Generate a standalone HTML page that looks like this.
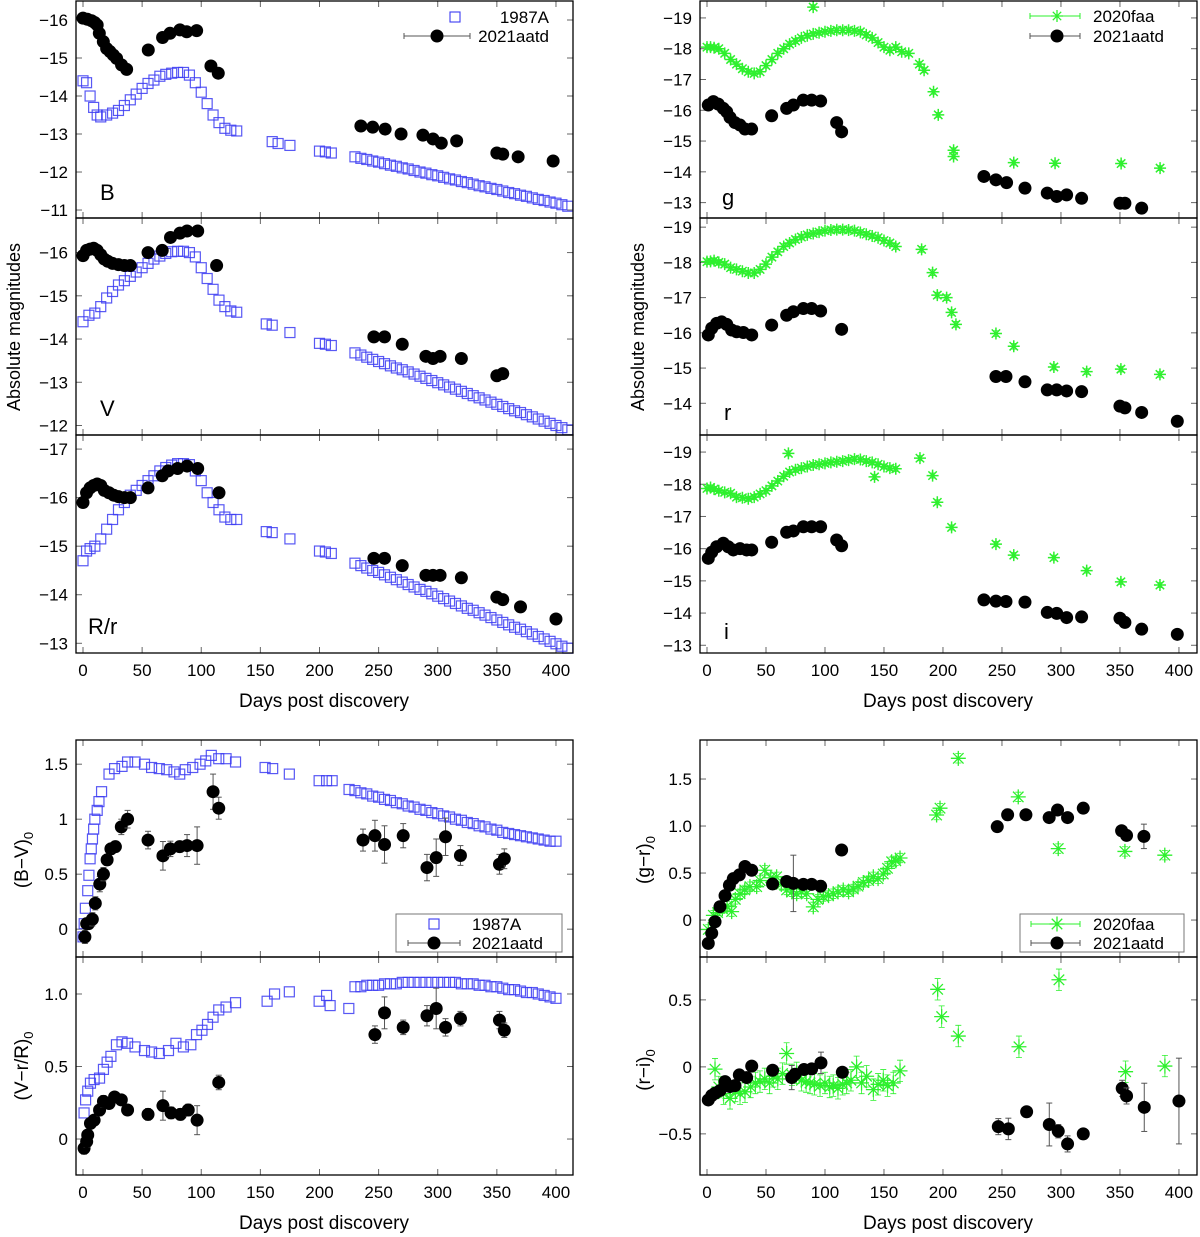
<!DOCTYPE html>
<html><head><meta charset="utf-8">
<style>
html,body{margin:0;padding:0;background:#fff;}
svg{display:block;font-family:"Liberation Sans",Arial,sans-serif;}
</style></head>
<body>
<svg id="chart" width="1200" height="1237" viewBox="0 0 1200 1237" xmlns="http://www.w3.org/2000/svg">
  <rect x="0" y="0" width="1200" height="1237" fill="#fff"/>
  <g id="layer"></g>
  <g font-size="19" fill="#000">
    <text x="324" y="707" text-anchor="middle">Days post discovery</text>
    <text x="948" y="707" text-anchor="middle">Days post discovery</text>
    <text x="324" y="1229" text-anchor="middle">Days post discovery</text>
    <text x="948" y="1229" text-anchor="middle">Days post discovery</text>
    <text transform="translate(20,327) rotate(-90)" text-anchor="middle" font-size="18">Absolute magnitudes</text>
    <text transform="translate(644,327) rotate(-90)" text-anchor="middle" font-size="18">Absolute magnitudes</text>
    <text transform="translate(28,860) rotate(-90)" text-anchor="middle">(B−V)<tspan font-size="13" dy="5">0</tspan></text>
    <text transform="translate(28,1066) rotate(-90)" text-anchor="middle">(V−r/R)<tspan font-size="13" dy="5">0</tspan></text>
    <text transform="translate(650,860) rotate(-90)" text-anchor="middle">(g−r)<tspan font-size="13" dy="5">0</tspan></text>
    <text transform="translate(650,1070) rotate(-90)" text-anchor="middle">(r−i)<tspan font-size="13" dy="5">0</tspan></text>
  </g>
  <g font-size="22" fill="#000">
    <text x="100" y="200">B</text>
    <text x="100" y="416">V</text>
    <text x="88" y="634">R/r</text>
    <text x="722" y="205">g</text>
    <text x="724" y="420">r</text>
    <text x="724" y="639">i</text>
  </g>
</svg>
<script>
// ---------- DATA ----------
const b87Days=[0,3,6,9,12,15,20,25,30,35,40,45,50,55,60,65,70,75,80,85,90,95,100,105,110,115,120,125,130,160,165,175,200,205,210,230,235,240,245,250,255,260,265,270,275,280,285,290,295,300,305,310,315,320,325,330,335,340,345,350,355,360,365,370,375,380,385,390,395,400,405,410];
const b87Mag=[-14.4,-14.35,-14.0,-13.7,-13.5,-13.45,-13.5,-13.55,-13.62,-13.75,-13.9,-14.05,-14.2,-14.33,-14.42,-14.52,-14.57,-14.6,-14.62,-14.62,-14.55,-14.35,-14.1,-13.8,-13.5,-13.3,-13.15,-13.1,-13.08,-12.8,-12.75,-12.7,-12.55,-12.53,-12.5,-12.40,-12.36,-12.33,-12.29,-12.26,-12.22,-12.18,-12.15,-12.11,-12.08,-12.04,-12.00,-11.97,-11.93,-11.90,-11.86,-11.82,-11.79,-11.75,-11.72,-11.68,-11.64,-11.61,-11.57,-11.54,-11.50,-11.46,-11.43,-11.39,-11.36,-11.32,-11.28,-11.25,-11.21,-11.18,-11.14,-11.10];
const bAaDays=[0,3.7,7.3,10,12,13.8,17.2,20,22.8,25.6,28.4,32.6,36.9,55.2,67.3,73.6,82,87.7,96.1,108.2,114.4,235,245,255.5,269,287.5,296,303,316,350,355,368,397.6];
const bAaMag=[-16.05,-16.02,-15.98,-15.93,-15.87,-15.65,-15.43,-15.25,-15.17,-15.08,-14.99,-14.82,-14.7,-15.21,-15.54,-15.65,-15.74,-15.69,-15.72,-14.79,-14.6,-13.21,-13.18,-13.13,-13.0,-12.97,-12.87,-12.76,-12.82,-12.5,-12.47,-12.4,-12.29];
const v87Days=[0,5,10,15,20,25,30,35,40,45,50,55,60,65,70,75,80,85,90,95,100,105,110,115,120,125,130,155,160,175,200,205,210,230,235,240,245,250,255,260,265,270,275,280,285,290,295,300,305,310,315,320,325,330,335,340,345,350,355,360,365,370,375,380,385,390,395,400,405,410];
const v87Mag=[-14.4,-14.55,-14.6,-14.75,-14.95,-15.1,-15.25,-15.35,-15.45,-15.55,-15.65,-15.75,-15.85,-15.92,-15.98,-16.02,-16.03,-16.03,-16.0,-15.9,-15.65,-15.4,-15.15,-14.9,-14.75,-14.65,-14.62,-14.35,-14.32,-14.15,-13.9,-13.88,-13.85,-13.68,-13.63,-13.58,-13.53,-13.48,-13.43,-13.38,-13.33,-13.29,-13.24,-13.19,-13.14,-13.09,-13.04,-12.99,-12.94,-12.89,-12.84,-12.79,-12.74,-12.69,-12.64,-12.59,-12.54,-12.49,-12.44,-12.39,-12.34,-12.30,-12.25,-12.20,-12.15,-12.10,-12.05,-12.00,-11.95,-11.90];
const vAaDays=[0,3,6,9,12,15,18,21,25,30,35,40,55,67,74,82,88,97,113,246,255,270,290,296,302,320,350,355];
const vAaMag=[-15.93,-16.05,-16.08,-16.1,-16.05,-15.95,-15.85,-15.8,-15.75,-15.72,-15.7,-15.7,-16.0,-16.05,-16.35,-16.45,-16.5,-16.5,-15.7,-14.05,-14.05,-13.88,-13.6,-13.55,-13.6,-13.55,-13.15,-13.2];
const r87Days=[0,3,6,10,15,20,25,30,35,40,45,50,55,60,65,70,75,80,85,90,95,100,105,110,115,120,125,130,155,160,175,200,205,210,230,235,240,245,250,255,260,265,270,275,280,285,290,295,300,305,310,315,320,325,330,335,340,345,350,355,360,365,370,375,380,385,390,395,400,405,410];
const r87Mag=[-14.7,-14.9,-14.95,-15.0,-15.15,-15.35,-15.55,-15.75,-15.9,-16.05,-16.15,-16.25,-16.35,-16.45,-16.55,-16.62,-16.67,-16.7,-16.7,-16.68,-16.55,-16.35,-16.1,-15.9,-15.75,-15.6,-15.55,-15.55,-15.3,-15.28,-15.15,-14.9,-14.88,-14.85,-14.65,-14.60,-14.55,-14.50,-14.46,-14.41,-14.36,-14.31,-14.26,-14.21,-14.16,-14.11,-14.07,-14.02,-13.97,-13.92,-13.87,-13.82,-13.77,-13.72,-13.68,-13.63,-13.58,-13.53,-13.48,-13.43,-13.38,-13.33,-13.29,-13.24,-13.19,-13.14,-13.09,-13.04,-12.99,-12.94,-12.90];
const rAaDays=[0,3,6,9,12,15,18,22,26,30,35,40,55,67,72,80,88,97,115,246,255,270,290,296,302,320,350,355,370,400];
const rAaMag=[-15.9,-16.1,-16.2,-16.25,-16.28,-16.25,-16.15,-16.1,-16.05,-16.02,-16.0,-16.0,-16.2,-16.45,-16.55,-16.6,-16.65,-16.6,-16.1,-14.75,-14.75,-14.6,-14.4,-14.4,-14.4,-14.35,-13.95,-13.9,-13.75,-13.5];
const gFaDays=[0,3,6,10,15,20,25,30,35,40,45,50,55,60,65,70,75,80,85,90,95,100,105,110,115,120,125,130,135,140,145,150,155,160,165,90,171,180,184,192,196,209,209,260,295,351,384];
const gFaMag=[-18.05,-18.05,-18.03,-18.0,-17.85,-17.65,-17.5,-17.35,-17.25,-17.2,-17.25,-17.45,-17.65,-17.85,-18.0,-18.15,-18.25,-18.35,-18.42,-18.48,-18.52,-18.55,-18.58,-18.6,-18.6,-18.6,-18.58,-18.55,-18.45,-18.35,-18.2,-18.05,-17.95,-18.05,-17.9,-19.35,-17.85,-17.5,-17.3,-16.6,-15.85,-14.7,-14.5,-14.3,-14.28,-14.27,-14.12];
const gAaDays=[1.1,5.4,9.6,13.8,16.7,19.5,23.7,28,32.2,37.8,54.8,67.5,73.2,81.6,88.7,96.3,109.9,114.1,234.7,244.9,253.9,269.5,288.4,296.4,304.8,317.5,350,354.2,368.4];
const gAaMag=[-16.17,-16.28,-16.2,-16.06,-15.95,-15.77,-15.6,-15.52,-15.39,-15.39,-15.82,-16.06,-16.17,-16.33,-16.33,-16.3,-15.6,-15.3,-13.85,-13.74,-13.65,-13.47,-13.31,-13.2,-13.25,-13.14,-12.98,-12.98,-12.82];
const rFaDays=[0,3,6,10,15,20,25,30,35,40,45,50,55,60,65,70,75,80,85,90,95,100,105,110,115,120,125,130,135,140,145,150,155,160,181.9,191.2,195.2,203.1,207.3,211,244.9,260,294,321.8,350.8,383.9];
const rFaMag=[-18.02,-18.03,-18.05,-18.0,-17.95,-17.85,-17.8,-17.75,-17.7,-17.7,-17.8,-17.95,-18.15,-18.3,-18.45,-18.55,-18.65,-18.72,-18.78,-18.82,-18.86,-18.9,-18.92,-18.93,-18.93,-18.92,-18.9,-18.85,-18.8,-18.75,-18.7,-18.62,-18.55,-18.45,-18.37,-17.71,-17.07,-17.0,-16.58,-16.24,-15.98,-15.62,-15.03,-14.9,-14.97,-14.82];
const rAa2Days=[1.1,4,8.2,12.4,16.7,20.9,25.1,30.8,37.9,54.8,67.5,73.2,81.7,88.7,96.3,114.1,244.9,253.4,269.5,288.4,296.4,304.8,317.5,350,354.2,368.4,398.6];
const rAa2Mag=[-15.94,-16.13,-16.27,-16.31,-16.24,-16.08,-16.03,-16.01,-15.94,-16.22,-16.5,-16.6,-16.69,-16.69,-16.62,-16.1,-14.76,-14.76,-14.61,-14.38,-14.38,-14.35,-14.33,-13.92,-13.87,-13.74,-13.49];
const iFaDays=[0,3,6,10,15,20,25,30,35,40,45,50,55,60,65,70,75,80,85,90,95,100,105,110,115,120,125,130,135,140,145,150,155,160,69,142,180.5,191.2,195.2,207.3,244.9,260,294,321.8,350.8,383.9];
const iFaMag=[-17.87,-17.9,-17.85,-17.8,-17.75,-17.72,-17.6,-17.58,-17.55,-17.6,-17.7,-17.8,-17.95,-18.1,-18.25,-18.38,-18.45,-18.5,-18.55,-18.6,-18.62,-18.65,-18.68,-18.7,-18.72,-18.75,-18.78,-18.77,-18.72,-18.68,-18.62,-18.55,-18.5,-18.48,-18.96,-18.23,-18.81,-18.27,-17.44,-16.66,-16.14,-15.8,-15.72,-15.32,-14.97,-14.87];
const iAaDays=[1.1,4,8.2,13.8,18,22.3,28,33.6,37.9,54.8,67.5,73.2,81.7,88.7,96.3,109.9,114.1,234.7,244.9,253.4,269.5,288.4,296.4,304.8,317.5,350,354.2,368.4,398.6];
const iAaMag=[-15.7,-15.89,-16.06,-16.17,-16.06,-15.96,-16.0,-15.96,-15.96,-16.2,-16.51,-16.55,-16.68,-16.68,-16.68,-16.27,-16.09,-14.41,-14.37,-14.36,-14.34,-14.02,-13.99,-13.86,-13.88,-13.84,-13.71,-13.5,-13.34];
const bv87Days=[0,1,2,4,5,6,7,8,9,10,12,13.5,15.7,22,26.7,33,37.7,44,52,58,64.5,70.8,77,81.8,86.5,92.8,99,103.8,108.5,114.8,121,129,154,160.4,174.5,199.7,206,210.7,225,230,235,240,245,250,255,260,265,270,275,280,285,290,295,300,305,310,315,320,325,330,335,340,345,350,355,360,365,370,375,380,385,390,395,400];
const bv87Val=[-0.07,0.05,0.19,0.35,0.49,0.64,0.73,0.82,0.91,1.0,1.08,1.16,1.25,1.41,1.46,1.48,1.52,1.52,1.50,1.47,1.46,1.45,1.43,1.41,1.45,1.47,1.50,1.53,1.58,1.55,1.55,1.52,1.47,1.46,1.41,1.35,1.35,1.35,1.27,1.26,1.24,1.23,1.21,1.20,1.18,1.17,1.15,1.14,1.12,1.11,1.09,1.08,1.06,1.05,1.03,1.02,1.00,0.99,0.97,0.96,0.94,0.93,0.91,0.90,0.88,0.87,0.86,0.85,0.84,0.83,0.82,0.81,0.80,0.80];
const bvAaDays=[1.6,3.1,4.7,7.9,10.4,14.2,17.3,20.4,23.6,27.4,32.4,37.7,55,67.6,73.9,81.8,88,96.5,110,114.8,236.8,246.9,255,270.8,290.9,298.7,306.6,319.2,352.2,356.3];
const bvAaVal=[-0.07,0.05,0.05,0.09,0.235,0.41,0.50,0.63,0.73,0.75,0.93,1.0,0.81,0.667,0.73,0.75,0.76,0.76,1.25,1.10,0.81,0.85,0.77,0.85,0.56,0.65,0.84,0.67,0.59,0.64];
const bvAaErr=[0.06,0.05,0.05,0.06,0.06,0.07,0.06,0.05,0.05,0.05,0.07,0.08,0.08,0.13,0.07,0.05,0.1,0.17,0.16,0.1,0.1,0.14,0.17,0.11,0.12,0.17,0.17,0.09,0.09,0.09];
const vr87Days=[0.9,2.2,4,6.3,9.4,14,17.3,20.4,23.6,28.3,33,37.7,44,52,58,64.5,72.3,78.6,84.9,91.2,96,100.6,105.3,110,114.8,121,129,155.7,162,174.5,199.7,206,209,224.8,230,235,240,245,250,255,260,265,270,275,280,285,290,295,300,305,310,315,320,325,330,335,340,345,350,355,360,365,370,375,380,385,390,395,400];
const vr87Val=[0.18,0.27,0.33,0.385,0.41,0.42,0.48,0.53,0.57,0.65,0.67,0.66,0.635,0.61,0.60,0.59,0.61,0.66,0.635,0.65,0.72,0.75,0.79,0.84,0.89,0.91,0.94,0.95,1.0,1.015,0.95,0.99,0.92,0.90,1.05,1.05,1.06,1.06,1.06,1.07,1.07,1.07,1.08,1.08,1.08,1.08,1.08,1.08,1.08,1.08,1.08,1.08,1.07,1.07,1.07,1.06,1.06,1.05,1.05,1.04,1.03,1.03,1.02,1.01,1.01,1.00,0.99,0.98,0.97];
const vrAaDays=[0.9,3.1,4,6.3,9.4,14,17.3,22,26.7,32.4,37.7,55,67.6,74.5,82.4,89,96.5,114.8,246.9,255,270.8,290.9,298.7,306.6,319.2,352.2,356.3];
const vrAaVal=[-0.064,-0.018,0.028,0.108,0.13,0.2,0.26,0.245,0.29,0.27,0.20,0.17,0.23,0.18,0.17,0.20,0.13,0.39,0.72,0.87,0.77,0.85,0.9,0.77,0.83,0.82,0.75];
const vrAaErr=[0.04,0.04,0.03,0.03,0.03,0.04,0.04,0.03,0.03,0.03,0.03,0.04,0.1,0.04,0.04,0.04,0.1,0.05,0.06,0.11,0.05,0.07,0.14,0.06,0.05,0.06,0.05];
const grFaDays=[1.1,5.4,9,13,17,20.9,24,28,32,36.4,42.1,45,49,54,59,63,67.5,72,76,80,84.5,90.1,94,98.6,103,107,111,115.5,120,124,128,132.5,137,141,145,149.4,153,156.5,160,163.6,194.6,197.5,213,263.8,297.7,354.2,388];
const grFaVal=[-0.1,0.05,0.08,0.12,0.15,0.09,0.22,0.28,0.32,0.355,0.355,0.42,0.53,0.45,0.46,0.38,0.32,0.3,0.28,0.3,0.28,0.14,0.22,0.25,0.26,0.28,0.3,0.32,0.3,0.33,0.36,0.4,0.42,0.46,0.44,0.49,0.55,0.62,0.63,0.66,1.117,1.19,1.72,1.31,0.76,0.73,0.69];
const grAaDays=[1.1,4,6.8,11,15.3,19,22.3,27.4,32.2,37.9,55.6,67.5,73.2,81.7,88.7,96.3,114.1,246,254.8,270.3,290,297.1,305.6,318.9,351.4,355.6,370.3];
const grAaVal=[-0.248,-0.14,-0.018,0.142,0.26,0.37,0.44,0.48,0.57,0.53,0.383,0.41,0.39,0.38,0.38,0.36,0.745,0.993,1.12,1.12,1.09,1.17,1.09,1.19,0.95,0.9,0.89];
const grAaErr=[0.03,0.03,0.03,0.03,0.03,0.03,0.03,0.03,0.03,0.03,0.03,0.05,0.3,0.05,0.05,0.06,0.03,0.04,0.06,0.03,0.04,0.03,0.05,0.03,0.03,0.03,0.13];
const riFaDays=[6.8,10,14,19.5,24,28,32.2,37,41,44.9,49,53,56.2,60,64,67.5,72,76,80,84,87.3,91,95.8,100,104,107,111,115,118.4,122,126.8,131,135.3,141,145,149.4,153,157.9,163.6,195.5,198.9,213,264.4,298.3,354.8,388.1];
const riFaVal=[-0.017,-0.15,-0.2,-0.235,-0.18,-0.2,-0.186,-0.15,-0.12,-0.11,-0.09,-0.12,-0.07,-0.09,-0.05,0.10,-0.06,-0.045,-0.1,-0.11,-0.12,-0.13,-0.14,-0.12,-0.15,-0.14,-0.16,-0.13,-0.12,-0.1,0.0,-0.12,-0.07,-0.17,-0.13,-0.1,-0.14,-0.12,-0.03,0.579,0.375,0.23,0.15,0.65,-0.036,0.006];
const riAaDays=[1.1,4,6.8,11,15.3,19.5,23.7,27.4,33.6,37.9,55.6,71.8,74.6,82.2,88.7,96.6,114.7,246.9,255.4,270.9,290.1,297.7,305.6,318.9,351.9,355.6,370.6,400];
const riAaVal=[-0.247,-0.214,-0.197,-0.177,-0.11,-0.147,-0.14,-0.06,-0.08,0.006,-0.025,-0.08,-0.055,-0.02,-0.015,0.03,-0.04,-0.446,-0.463,-0.335,-0.43,-0.48,-0.575,-0.5,-0.16,-0.217,-0.302,-0.255];
const riAaErr=[0.02,0.02,0.02,0.02,0.02,0.02,0.02,0.02,0.02,0.02,0.02,0.09,0.03,0.03,0.03,0.08,0.03,0.06,0.08,0.04,0.16,0.05,0.06,0.04,0.06,0.06,0.18,0.32];
const xTicks=[0,50,100,150,200,250,300,350,400];
const bTicks=[-16,-15,-14,-13,-12,-11];
const vTicks=[-16,-15,-14,-13,-12];
const rTicks=[-17,-16,-15,-14,-13];
const gTicks=[-19,-18,-17,-16,-15,-14,-13];
const rRTicks=[-19,-18,-17,-16,-15,-14];
const iTicks=[-19,-18,-17,-16,-15,-14,-13];
const bvTicks=[0,0.5,1,1.5];
const bvTickLabels=["0","0.5","1","1.5"];
const vrTicks=[0,0.5,1.0];
const vrTickLabels=["0","0.5","1.0"];
const grTicks=[0,0.5,1.0,1.5];
const grTickLabels=["0","0.5","1.0","1.5"];
const riTicks=[-0.5,0,0.5];
const riTickLabels=["−0.5","0","0.5"];

// ---------- DRAWING ----------
const NS="http://www.w3.org/2000/svg";
const layer=document.getElementById('layer');
const BLUE="#3b3bf2", GREEN="#2ef02e", BLACK="#000", ERRC="#555";
function mk(tag,attrs,parent){const e=document.createElementNS(NS,tag);for(const k in attrs)e.setAttribute(k,attrs[k]);(parent||layer).appendChild(e);return e;}
function makeScale(d0,d1,p0,p1){return v=>p0+(v-d0)/(d1-d0)*(p1-p0);}

function panel(name,x0,x1,y0,y1,dMin,dMax,vTop,vBot,yTicks,yLabels,showX){
  const g=mk('g',{});
  
  
  const sx=makeScale(dMin,dMax,x0,x1), sy=makeScale(vTop,vBot,y0,y1);
  const axes=mk('g',{stroke:'#000','stroke-width':1},g);
  
  
  xTicks.forEach(t=>{const x=sx(t);
    mk('line',{x1:x,x2:x,y1:y1,y2:y1-6,stroke:'#666'},axes);
    mk('line',{x1:x,x2:x,y1:y0,y2:y0+6,stroke:'#666'},axes);
    if(showX){const tl=mk('text',{x:x,y:y1+23,'text-anchor':'middle','font-size':17,stroke:'none',fill:'#000'},g);tl.textContent=t;
      
      }
  });
  yTicks.forEach((t,i)=>{const y=sy(t);
    mk('line',{x1:x0,x2:x0+6,y1:y,y2:y,stroke:'#666'},axes);
    mk('line',{x1:x1,x2:x1-6,y1:y,y2:y,stroke:'#666'},axes);
    const tl=mk('text',{x:x0-8,y:y+6,'text-anchor':'end','font-size':17,fill:'#000'},g);
    tl.textContent=yLabels?yLabels[i]:String(t).replace('-','−');
    
    
  });
  const plot=mk('g',{},g);
  
  
  const fr=mk('rect',{x:x0,y:y0,width:x1-x0,height:y1-y0,fill:'none',stroke:'#000','stroke-width':1.3},g);
  
  
  return {sx,sy,plot,x0,x1,y0,y1};
}
function clipOk(p,x,y){return x>=p.x0-8&&x<=p.x1+8&&y>=p.y0-8&&y<=p.y1+8;}
function squares(p,days,vals,name){
  const s=mk('g',{fill:'none',stroke:BLUE,'stroke-width':1.2,'stroke-opacity':0.85},p.plot);
  
  
  days.forEach((d,i)=>{const x=p.sx(d),y=p.sy(vals[i]);if(!clipOk(p,x,y))return;
    const r=mk('rect',{x:x-5,y:y-5,width:10,height:10},s);
    
    });
}
function circles(p,days,vals,errs,name,r){
  const s=mk('g',{},p.plot);
  
  
  days.forEach((d,i)=>{const x=p.sx(d),y=p.sy(vals[i]);if(!clipOk(p,x,y))return;
    if(errs){const ya=p.sy(vals[i]+errs[i]),yb=p.sy(vals[i]-errs[i]);
      mk('line',{x1:x,x2:x,y1:ya,y2:yb,stroke:ERRC,'stroke-width':1},s);
      mk('line',{x1:x-3,x2:x+3,y1:ya,y2:ya,stroke:ERRC,'stroke-width':1},s);
      mk('line',{x1:x-3,x2:x+3,y1:yb,y2:yb,stroke:ERRC,'stroke-width':1},s);}
    const c=mk('circle',{cx:x,cy:y,r:r||6.5,fill:BLACK},s);
    
    });
}
function star(parent,x,y,h,sw){
  const d=`M${x-h},${y}H${x+h}M${x},${y-h}V${y+h}M${x-h*0.7},${y-h*0.7}L${x+h*0.7},${y+h*0.7}M${x-h*0.7},${y+h*0.7}L${x+h*0.7},${y-h*0.7}`;
  return mk('path',{d:d,stroke:GREEN,'stroke-width':sw||1,fill:'none'},parent);
}
function stars(p,days,vals,name,h,err,sw){
  const s=mk('g',{},p.plot);
  
  
  days.forEach((d,i)=>{const x=p.sx(d),y=p.sy(vals[i]);if(!clipOk(p,x,y))return;
    if(err){const ya=p.sy(vals[i]+err),yb=p.sy(vals[i]-err);
      mk('path',{d:`M${x},${ya}V${yb}M${x-3},${ya}H${x+3}M${x-3},${yb}H${x+3}`,stroke:GREEN,'stroke-width':0.8,fill:'none'},s);}
    const e=star(s,x,y,h,sw);
    
    });
}

const LD=[-5.92,414.4], RD=[-5.93,415.3];
const pB=panel('panel-b',76,573,1,218,LD[0],LD[1],-16.5,-10.79,bTicks,null,false);
squares(pB,b87Days,b87Mag,'series-1987a-b');circles(pB,bAaDays,bAaMag,null,'series-2021aatd-b');
const pV=panel('panel-v',76,573,218,435,LD[0],LD[1],-16.8,-11.78,vTicks,null,false);
squares(pV,v87Days,v87Mag,'series-1987a-v');circles(pV,vAaDays,vAaMag,null,'series-2021aatd-v');
const pR=panel('panel-r',76,573,435,653,LD[0],LD[1],-17.29,-12.8,rTicks,null,true);
squares(pR,r87Days,r87Mag,'series-1987a-r');circles(pR,rAaDays,rAaMag,null,'series-2021aatd-r');
const pG=panel('panel-g',700,1197,1,218,RD[0],RD[1],-19.55,-12.5,gTicks,null,false);
stars(pG,gFaDays,gFaMag,'series-2020faa-g',6,0.08,1.5);circles(pG,gAaDays,gAaMag,null,'series-2021aatd-g');
const pRr=panel('panel-r-right',700,1197,218,435,RD[0],RD[1],-19.26,-13.1,rRTicks,null,false);
stars(pRr,rFaDays,rFaMag,'series-2020faa-r',6,0.08,1.5);circles(pRr,rAa2Days,rAa2Mag,null,'series-2021aatd-r-right');
const pI=panel('panel-i',700,1197,435,653,RD[0],RD[1],-19.53,-12.76,iTicks,null,true);
stars(pI,iFaDays,iFaMag,'series-2020faa-i',6,0.08,1.5);circles(pI,iAaDays,iAaMag,null,'series-2021aatd-i');
const pBV=panel('panel-b-v',76,573,740,957,LD[0],LD[1],1.72,-0.253,bvTicks,bvTickLabels,false);
squares(pBV,bv87Days,bv87Val,'series-1987a-b-v');circles(pBV,bvAaDays,bvAaVal,bvAaErr,'series-2021aatd-b-v');
const pVR=panel('panel-v-r',76,573,957,1175,LD[0],LD[1],1.255,-0.248,vrTicks,vrTickLabels,true);
squares(pVR,vr87Days,vr87Val,'series-1987a-v-r');circles(pVR,vrAaDays,vrAaVal,vrAaErr,'series-2021aatd-v-r');
const pGR=panel('panel-g-r',700,1197,740,957,RD[0],RD[1],1.915,-0.393,grTicks,grTickLabels,false);
stars(pGR,grFaDays,grFaVal,'series-2020faa-g-r',7.5,0.05,1.3);circles(pGR,grAaDays,grAaVal,grAaErr,'series-2021aatd-g-r');
const pRI=panel('panel-r-i',700,1197,957,1175,RD[0],RD[1],0.82,-0.807,riTicks,riTickLabels,true);
stars(pRI,riFaDays,riFaVal,'series-2020faa-r-i',7.5,0.08,1.3);circles(pRI,riAaDays,riAaVal,riAaErr,'series-2021aatd-r-i');

function legend(name,box,rows){
  const g=mk('g',{});
  
  
  if(box){mk('rect',{x:box[0],y:box[1],width:box[2],height:box[3],fill:'#fff',stroke:'#777','stroke-width':1},g);}
  rows.forEach(r=>{
    const e=mk('g',{},g);
    
    
    if(r.line){mk('path',{d:`M${r.line[0]},${r.y}H${r.line[1]}M${r.line[0]},${r.y-3}V${r.y+3}M${r.line[1]},${r.y-3}V${r.y+3}`,stroke:r.lc,'stroke-width':1,fill:'none'},e);}
    if(r.type==='sq')mk('rect',{x:r.mx-5,y:r.y-5,width:10,height:10,fill:'none',stroke:BLUE,'stroke-width':1.1},e);
    if(r.type==='c')mk('circle',{cx:r.mx,cy:r.y,r:6.5,fill:'#000'},e);
    if(r.type==='st')star(e,r.mx,r.y,r.h,1.3);
    const t=mk('text',{x:r.tx,y:r.y+6,'font-size':17,'text-anchor':r.anchor||'start',fill:'#000'},e);t.textContent=r.label;
  });
}
legend('legend-top-left',null,[
  {type:'sq',mx:455,y:17,tx:549,anchor:'end',label:'1987A'},
  {type:'c',mx:437,y:36,tx:549,anchor:'end',label:'2021aatd',line:[404,470],lc:ERRC}]);
legend('legend-top-right',null,[
  {type:'st',mx:1057,y:16,h:6,tx:1093,label:'2020faa',line:[1030,1080],lc:GREEN},
  {type:'c',mx:1057,y:36,tx:1093,label:'2021aatd',line:[1030,1080],lc:ERRC}]);
legend('legend-bottom-left',[396,914,166,38],[
  {type:'sq',mx:434,y:924,tx:472,label:'1987A'},
  {type:'c',mx:434,y:943,tx:472,label:'2021aatd',line:[408,460],lc:ERRC}]);
legend('legend-bottom-right',[1020,914,164,38],[
  {type:'st',mx:1057,y:924,h:7.5,tx:1093,label:'2020faa',line:[1031,1080],lc:GREEN},
  {type:'c',mx:1057,y:943,tx:1093,label:'2021aatd',line:[1031,1080],lc:ERRC}]);
</script>
</body></html>
